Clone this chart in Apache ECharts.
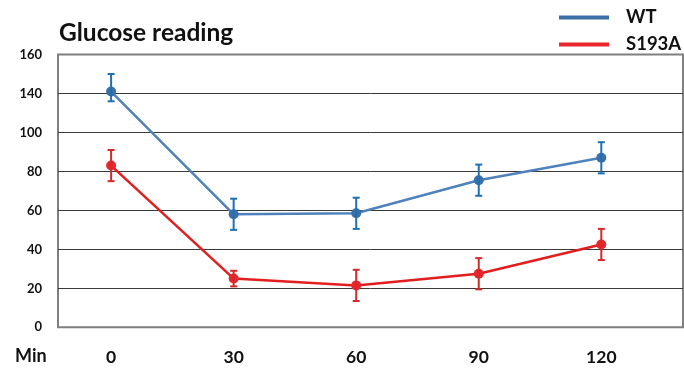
<!DOCTYPE html>
<html><head><meta charset="utf-8">
<script src="https://cdn.jsdelivr.net/npm/echarts@6/dist/echarts.min.js"></script>
<style>html,body{margin:0;padding:0;background:#fff}#c{width:684px;height:369px}</style>
</head><body><div id="c"></div>
<script>
// ---- data ----
const minutes = [0, 30, 60, 90, 120];
const xTickLabels = [0, 30, 60, 90, 120];
const yTickLabels = [0, 20, 40, 60, 80, 100, 140, 160]; // as printed on the chart (evenly spaced)
const wtMean = [141, 58, 58.5, 75.5, 87];
const wtErr = [9, 8, 8, 8, 8];
const s193aMean = [83, 25, 21.5, 27.5, 42.5];
const s193aErr = [8, 4, 8, 8, 8];

const FONT = 'Lato, "Open Sans", sans-serif';
const STEP = 20; // axis units per printed tick interval

// map a value in printed-label units onto the evenly spaced axis
function toAxis(v) {
  for (let i = 1; i < yTickLabels.length; i++) {
    if (v <= yTickLabels[i] || i === yTickLabels.length - 1) {
      const a = yTickLabels[i - 1], b = yTickLabels[i];
      return (i - 1) * STEP + (v - a) / (b - a) * STEP;
    }
  }
}
function lineData(mean) { return minutes.map((m, i) => [m, toAxis(mean[i])]); }
function errData(mean, err) { return minutes.map((m, i) => [m, toAxis(mean[i] - err[i]), toAxis(mean[i] + err[i])]); }

function errRender(color) {
  return function (params, api) {
    const x = api.value(0);
    const lo = api.coord([x, api.value(1)]);
    const hi = api.coord([x, api.value(2)]);
    const w = 3.5;
    const st = { stroke: color, lineWidth: 2 };
    return { type: 'group', children: [
      { type: 'line', shape: { x1: lo[0], y1: lo[1], x2: hi[0], y2: hi[1] }, style: st },
      { type: 'line', shape: { x1: lo[0] - w, y1: lo[1], x2: lo[0] + w, y2: lo[1] }, style: st },
      { type: 'line', shape: { x1: hi[0] - w, y1: hi[1], x2: hi[0] + w, y2: hi[1] }, style: st }
    ]};
  };
}

const nLines = yTickLabels.length;
const splitColors = yTickLabels.map((_, i) => (i === 0 || i === nLines - 1) ? 'rgba(0,0,0,0)' : '#3a3a3a');

const chart = echarts.init(document.getElementById('c'));
chart.setOption({
  animation: false,
  title: { text: 'Glucose reading', left: 54, top: 16,
    textStyle: { fontFamily: FONT, fontWeight: 'bold', fontSize: 24.5, color: '#111' } },
  legend: {
    orient: 'vertical', left: 554, top: 2, itemGap: 6,
    icon: 'rect', itemWidth: 50, itemHeight: 4,
    data: ['WT', 'S193A'],
    textStyle: { fontFamily: FONT, fontWeight: 'bold', fontSize: 18.5, color: '#111', lineHeight: 21, padding: [0, 0, 0, 12] }
  },
  graphic: [{ type: 'text', left: 15, top: 347,
    style: { text: 'Min', font: 'bold 18px ' + FONT, fill: '#111' } }],
  grid: { left: 58, right: 1, top: 54.5, bottom: 41.7, show: true,
    borderColor: '#7f7f7f', borderWidth: 2, backgroundColor: '#fff' },
  xAxis: {
    type: 'value', min: -13, max: 140,
    axisLine: { show: false }, axisTick: { show: false }, splitLine: { show: false },
    axisLabel: { customValues: xTickLabels, margin: 21,
      fontFamily: FONT, fontWeight: 'bold', fontSize: 17.5, color: '#111' }
  },
  yAxis: {
    type: 'value', min: 0, max: (nLines - 1) * STEP, interval: STEP,
    axisLine: { show: false }, axisTick: { show: false },
    splitLine: { show: true, lineStyle: { color: splitColors, width: 1 } },
    axisLabel: { margin: 16, fontFamily: FONT, fontWeight: 'bold', fontSize: 13, color: '#111',
      formatter: v => String(yTickLabels[Math.round(v / STEP)]) }
  },
  series: [
    { name: 'WT', type: 'line', data: lineData(wtMean), color: '#2e75b6',
      lineStyle: { color: '#4f81bd', width: 2.5 }, symbol: 'circle', symbolSize: 10,
      itemStyle: { color: '#3b6fa8' }, z: 3 },
    { name: 'S193A', type: 'line', data: lineData(s193aMean), color: '#e02020',
      lineStyle: { color: '#e31e1e', width: 2.5 }, symbol: 'circle', symbolSize: 10,
      itemStyle: { color: '#e8262b' }, z: 3 },
    { name: 'wtErr', type: 'custom', data: errData(wtMean, wtErr), renderItem: errRender('#1f6fb5'), z: 4 },
    { name: 's193aErr', type: 'custom', data: errData(s193aMean, s193aErr), renderItem: errRender('#d42a2a'), z: 4 }
  ]
});
</script></body></html>
